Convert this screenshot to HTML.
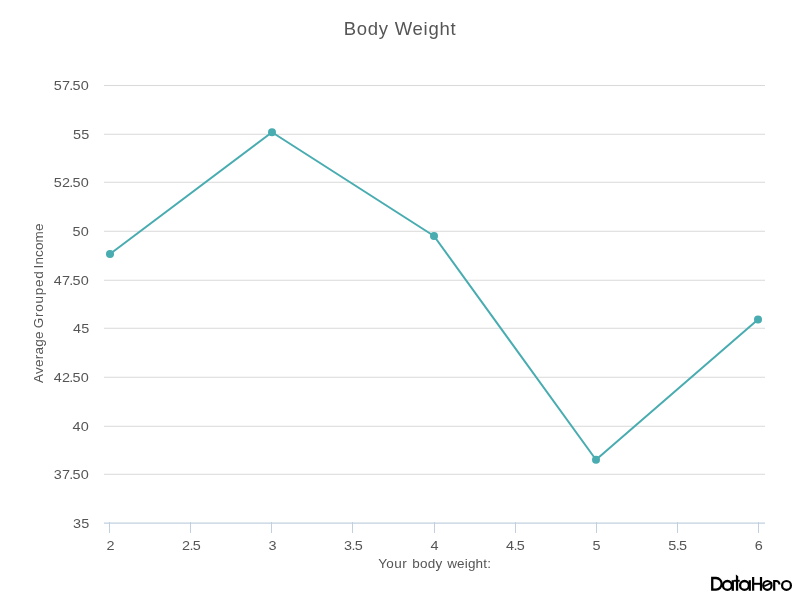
<!DOCTYPE html>
<html>
<head>
<meta charset="utf-8">
<title>Body Weight</title>
<style>
html,body{margin:0;padding:0;background:#fff;}
body{width:800px;height:600px;overflow:hidden;font-family:"Liberation Sans",sans-serif;}
svg{display:block;will-change:transform;}
text{font-family:"Liberation Sans",sans-serif;fill:#555;}
</style>
</head>
<body>
<svg width="800" height="600" viewBox="0 0 800 600">
<rect x="0" y="0" width="800" height="600" fill="#ffffff"/>
<!-- title -->
<text x="343.8" y="34.5" font-size="18.5" letter-spacing="0.72" fill="#555">Body Weight</text>
<!-- gridlines -->
<g stroke="#d9d9d9" stroke-width="1.1">
<line x1="104" x2="765" y1="85.45" y2="85.45"/>
<line x1="104" x2="765" y1="134.22" y2="134.22"/>
<line x1="104" x2="765" y1="182.22" y2="182.22"/>
<line x1="104" x2="765" y1="231.22" y2="231.22"/>
<line x1="104" x2="765" y1="280.22" y2="280.22"/>
<line x1="104" x2="765" y1="328.22" y2="328.22"/>
<line x1="104" x2="765" y1="377.22" y2="377.22"/>
<line x1="104" x2="765" y1="426.22" y2="426.22"/>
<line x1="104" x2="765" y1="474.22" y2="474.22"/>
</g>
<!-- x axis -->
<line x1="104" x2="765" y1="523.15" y2="523.15" stroke="#c0d0e0" stroke-width="1.25"/>
<g stroke="#c0d0e0" stroke-width="1" shape-rendering="crispEdges">
<line x1="109.5" x2="109.5" y1="522" y2="533"/>
<line x1="190.5" x2="190.5" y1="522" y2="533"/>
<line x1="271.5" x2="271.5" y1="522" y2="533"/>
<line x1="352.5" x2="352.5" y1="522" y2="533"/>
<line x1="434.5" x2="434.5" y1="522" y2="533"/>
<line x1="515.5" x2="515.5" y1="522" y2="533"/>
<line x1="596.5" x2="596.5" y1="522" y2="533"/>
<line x1="677.5" x2="677.5" y1="522" y2="533"/>
<line x1="758.5" x2="758.5" y1="522" y2="533"/>
</g>
<!-- y labels -->
<g font-size="13.5" text-anchor="end" letter-spacing="0.2">
<text transform="translate(88.95,90) scale(1.07,1)">57<tspan dx="-0.9">.</tspan><tspan dx="-0.9">50</tspan></text>
<text transform="translate(89.6,139) scale(1.07,1)">55</text>
<text transform="translate(88.95,187) scale(1.07,1)">52<tspan dx="-0.9">.</tspan><tspan dx="-0.9">50</tspan></text>
<text transform="translate(88.95,236) scale(1.07,1)">50</text>
<text transform="translate(88.95,285) scale(1.07,1)">47<tspan dx="-0.9">.</tspan><tspan dx="-0.9">50</tspan></text>
<text transform="translate(89.6,333) scale(1.07,1)">45</text>
<text transform="translate(88.95,382) scale(1.07,1)">42<tspan dx="-0.9">.</tspan><tspan dx="-0.9">50</tspan></text>
<text transform="translate(88.95,431) scale(1.07,1)">40</text>
<text transform="translate(88.95,479) scale(1.07,1)">37<tspan dx="-0.9">.</tspan><tspan dx="-0.9">50</tspan></text>
<text transform="translate(89.6,528) scale(1.07,1)">35</text>
</g>
<!-- x labels -->
<g font-size="13.5" text-anchor="middle" letter-spacing="0.2">
<text transform="translate(110.5,549.8) scale(1.07,1)">2</text>
<text transform="translate(191.5,549.8) scale(1.07,1)">2<tspan dx="-0.9">.</tspan><tspan dx="-0.9">5</tspan></text>
<text transform="translate(272.5,549.8) scale(1.07,1)">3</text>
<text transform="translate(353.5,549.8) scale(1.07,1)">3<tspan dx="-0.9">.</tspan><tspan dx="-0.9">5</tspan></text>
<text transform="translate(434.5,549.8) scale(1.07,1)">4</text>
<text transform="translate(515.5,549.8) scale(1.07,1)">4<tspan dx="-0.9">.</tspan><tspan dx="-0.9">5</tspan></text>
<text transform="translate(596.5,549.8) scale(1.07,1)">5</text>
<text transform="translate(677.75,549.8) scale(1.07,1)">5<tspan dx="-0.9">.</tspan><tspan dx="-0.9">5</tspan></text>
<text transform="translate(758.75,549.8) scale(1.07,1)">6</text>
</g>
<!-- axis titles -->
<text x="378.2" y="567.6" font-size="13.5" letter-spacing="0.4">Your<tspan dx="1.3" letter-spacing="0.2"> body</tspan><tspan dx="0.9" letter-spacing="0.15"> weight:</tspan></text>
<text transform="translate(43.3,383) rotate(-90)" font-size="13.5" letter-spacing="0.25">Average<tspan dx="-1.6" letter-spacing="0.75"> Grouped</tspan><tspan dx="-1.9" letter-spacing="0.15"> Income</tspan></text>
<!-- series -->
<polyline fill="none" stroke="#48acb0" stroke-width="2" stroke-linejoin="round" stroke-linecap="round"
 points="110,254 272,132.25 434,236 596,459.75 758,319.5"/>
<g fill="#48acb0">
<circle cx="110" cy="254" r="4"/>
<circle cx="272" cy="132.25" r="4"/>
<circle cx="434" cy="236" r="4"/>
<circle cx="596" cy="459.75" r="4"/>
<circle cx="758" cy="319.5" r="4"/>
</g>
<!-- logo -->
<g id="logo" fill="none" stroke="#000" stroke-width="2.3">
<!-- D -->
<path d="M712.25 578 H716.07 A5.83 5.83 0 0 1 716.07 589.65 H712.25 Z" stroke-width="2.3"/>
<!-- a -->
<circle cx="727.4" cy="585.4" r="4.42"/>
<path d="M732.8 580.2 V590.8" stroke-width="2.3"/>
<!-- t -->
<path d="M735.9 574.4 L738.2 576.3 V590.8 H735.9 Z" fill="#000" stroke="none"/>
<path d="M733.8 580.8 H739.75" stroke-width="1.9"/>
<!-- a -->
<circle cx="744.5" cy="585.4" r="4.42"/>
<path d="M749.8 580.2 V590.8" stroke-width="2.2"/>
<!-- H -->
<path d="M753.15 576.9 V590.8 M761 576.9 V590.8" stroke-width="2.2"/>
<path d="M753.15 583.8 H761" stroke-width="2"/>
<!-- e -->
<ellipse cx="767.35" cy="585.4" rx="4.15" ry="4.42" stroke-width="2.2"/>
<path d="M764.2 586.25 L772.2 582.5" stroke-width="1.9"/>
<!-- r -->
<path d="M774.2 580 V590.7" stroke-width="2.2"/>
<path d="M774.2 581.05 H776.3 A3.15 3.4 0 0 1 779.45 584.5" stroke-width="2.1"/>
<!-- o -->
<circle cx="786.5" cy="585.4" r="4.42" stroke-width="2.2"/>
</g>
</svg>
</body>
</html>
